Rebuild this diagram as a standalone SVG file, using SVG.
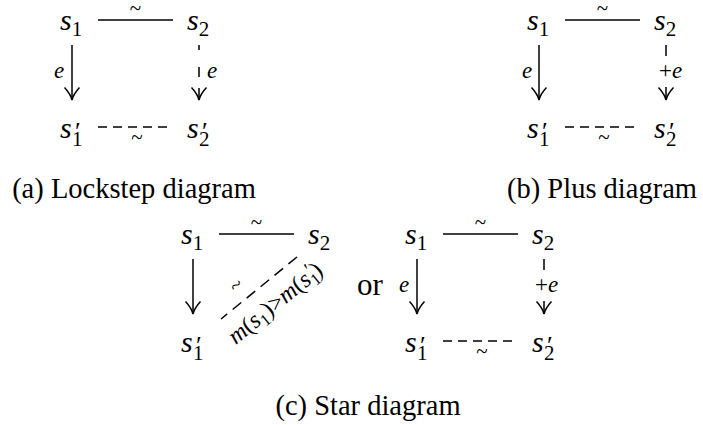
<svg xmlns="http://www.w3.org/2000/svg" width="703" height="425" viewBox="0 0 703 425">
<style>
.m{font-family:"Liberation Serif",serif;font-style:italic;font-size:30px;fill:#000}
.sub{font-style:normal;font-size:21px}
.pr{font-style:normal;font-size:26px}
.lbl{font-family:"Liberation Serif",serif;font-style:italic;font-size:23px;fill:#000}
.up{font-style:normal}
.tl{font-family:"Liberation Serif",serif;font-size:21px;text-anchor:middle;fill:#000}
.cap{font-family:"Liberation Serif",serif;font-size:28.5px;text-anchor:middle;fill:#000}
.ln{stroke:#000;stroke-width:1.5;fill:none}
.dash{stroke-dasharray:9 6}
.arr{marker-end:url(#ah)}
</style>
<defs>
<marker id="ah" markerUnits="userSpaceOnUse" viewBox="-14 -9 16 18" markerWidth="16" markerHeight="18" refX="0" refY="0" orient="auto" overflow="visible">
<path d="M-12.5,-7.5 Q-6,-1.5 0,0 Q-6,1.5 -12.5,7.5" fill="none" stroke="#000" stroke-width="1.5" stroke-dasharray="none"/>
</marker>
</defs>

<g id="connectors">
  <g id="conn-a">
    <path class="ln" d="M98,20 H173"/>
    <text class="tl" x="135.5" y="15">~</text>
    <path class="ln arr" d="M72,45 V100"/>
    <text class="lbl" x="54" y="78">e</text>
    <path class="ln arr" d="M199,45 V100" style="stroke-dasharray:5 17 10 11 12"/>
    <text class="lbl" x="207" y="78">e</text>
    <path class="ln dash" d="M98,127 H168"/>
    <text class="tl" x="137" y="144">~</text>
  </g>
  <g id="conn-b" transform="translate(467,0)">
    <path class="ln" d="M98,20 H173"/>
    <text class="tl" x="135.5" y="15">~</text>
    <path class="ln arr" d="M72,45 V100"/>
    <text class="lbl" x="55" y="78">e</text>
    <path class="ln arr" d="M199,45 V100" style="stroke-dasharray:11 31 13"/>
    <text class="lbl" x="192" y="78"><tspan class="up">+</tspan>e</text>
    <path class="ln dash" d="M98,127 H168"/>
    <text class="tl" x="137" y="144">~</text>
  </g>
  <g id="conn-c1" transform="translate(121,214)">
    <path class="ln" d="M98,20 H173"/>
    <text class="tl" x="135.5" y="15">~</text>
    <path class="ln arr" d="M72,45 V100"/>
    <path class="ln" d="M176,43 L100,105" style="stroke-dasharray:11 7"/>
  </g>
  <text class="tl" transform="translate(240.5,290.5) rotate(-39.2)" x="0" y="0">~</text>
  <text class="lbl" transform="translate(280,309) rotate(-39.2)" text-anchor="middle" style="font-size:24px">m<tspan class="up">(</tspan>s<tspan class="sub" dy="5" style="font-size:17px">1</tspan><tspan class="up" dy="-5">)&gt;</tspan>m<tspan class="up">(</tspan>s<tspan class="sub" dy="5" style="font-size:17px">1</tspan><tspan class="up" dx="-6" dy="-11" style="font-size:20px">′</tspan><tspan class="up" dy="6">)</tspan></text>
  <g id="conn-c2" transform="translate(345,214)">
    <path class="ln" d="M98,20 H173"/>
    <text class="tl" x="135.5" y="15">~</text>
    <path class="ln arr" d="M72,45 V100"/>
    <text class="lbl" x="54" y="78">e</text>
    <path class="ln arr" d="M199,45 V100" style="stroke-dasharray:11 31 13"/>
    <text class="lbl" x="190" y="78"><tspan class="up">+</tspan>e</text>
    <path class="ln dash" d="M98,127 H168"/>
    <text class="tl" x="137" y="144">~</text>
  </g>
</g>

<g id="diagram-a">
  <g id="a-s1"><text class="m" x="60" y="30">s<tspan class="sub" dy="6">1</tspan></text></g>
  <g id="a-s2"><text class="m" x="187" y="30">s<tspan class="sub" dy="6">2</tspan></text></g>
  <g id="a-s1p"><text class="m" x="60" y="138">s<tspan class="sub" x="72" dy="8">1</tspan><tspan class="pr" x="75" y="140">′</tspan></text></g>
  <g id="a-s2p"><text class="m" x="187" y="138">s<tspan class="sub" x="199" dy="8">2</tspan><tspan class="pr" x="202" y="140">′</tspan></text></g>
</g>
<g id="diagram-b" transform="translate(467,0)">
  <g id="b-s1"><text class="m" x="60" y="30">s<tspan class="sub" dy="6">1</tspan></text></g>
  <g id="b-s2"><text class="m" x="187" y="30">s<tspan class="sub" dy="6">2</tspan></text></g>
  <g id="b-s1p"><text class="m" x="60" y="138">s<tspan class="sub" x="72" dy="8">1</tspan><tspan class="pr" x="75" y="140">′</tspan></text></g>
  <g id="b-s2p"><text class="m" x="187" y="138">s<tspan class="sub" x="199" dy="8">2</tspan><tspan class="pr" x="202" y="140">′</tspan></text></g>
</g>
<g id="diagram-c1" transform="translate(121,214)">
  <g id="c1-s1"><text class="m" x="60" y="30">s<tspan class="sub" dy="6">1</tspan></text></g>
  <g id="c1-s2"><text class="m" x="187" y="30">s<tspan class="sub" dy="6">2</tspan></text></g>
  <g id="c1-s1p"><text class="m" x="60" y="138">s<tspan class="sub" x="72" dy="8">1</tspan><tspan class="pr" x="75" y="140">′</tspan></text></g>
</g>
<text x="357" y="295" style="font-family:'Liberation Serif',serif;font-size:31px">or</text>
<g id="diagram-c2" transform="translate(345,214)">
  <g id="c2-s1"><text class="m" x="60" y="30">s<tspan class="sub" dy="6">1</tspan></text></g>
  <g id="c2-s2"><text class="m" x="187" y="30">s<tspan class="sub" dy="6">2</tspan></text></g>
  <g id="c2-s1p"><text class="m" x="60" y="138">s<tspan class="sub" x="72" dy="8">1</tspan><tspan class="pr" x="75" y="140">′</tspan></text></g>
  <g id="c2-s2p"><text class="m" x="187" y="138">s<tspan class="sub" x="199" dy="8">2</tspan><tspan class="pr" x="202" y="140">′</tspan></text></g>
</g>

<g id="captions">
  <text class="cap" x="134" y="198">(a) Lockstep diagram</text>
  <text class="cap" x="602" y="198">(b) Plus diagram</text>
  <text class="cap" x="368" y="415">(c) Star diagram</text>
</g>
</svg>
